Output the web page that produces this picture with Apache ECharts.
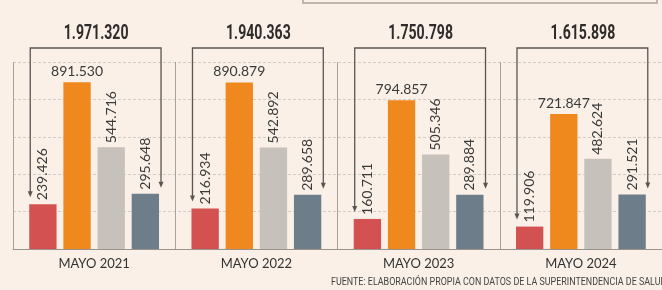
<!DOCTYPE html>
<html>
<head>
<meta charset="utf-8">
<script src="https://cdn.jsdelivr.net/npm/echarts@6/dist/echarts.min.js"></script>
<style>
  html, body { margin: 0; padding: 0; background: #faf0e8; }
  #chart { width: 662px; height: 290px; }
</style>
</head>
<body>
<div id="chart"></div>
<script>
const categories = ['MAYO 2021', 'MAYO 2022', 'MAYO 2023', 'MAYO 2024'];
const totals = [1971320, 1940363, 1750798, 1615898];
const redValues = [239426, 216934, 160711, 119906];
const orangeValues = [891530, 890879, 794857, 721847];
const grayValues = [544716, 542892, 505346, 482624];
const blueValues = [295648, 289658, 289884, 291521];
const yMax = 1000000;
const yStep = 200000;

const fmt = (v) => String(v).replace(/\B(?=(\d{3})+(?!\d))/g, '.');

const chart = echarts.init(document.getElementById('chart'));

// rotated labels above red / gray / blue bars
const sideLabel = {
  show: true,
  position: 'top',
  rotate: 90,
  align: 'left',
  verticalAlign: 'middle',
  distance: 4,
  fontFamily: 'Lato',
  fontSize: 14,
  color: '#3a3a3a',
  formatter: (p) => fmt(p.value),
};

const barSeries = (name, data, color, label) => ({
  name: name,
  type: 'bar',
  data: data,
  barGap: '25%',
  barCategoryGap: '20%',
  itemStyle: { color: color },
  label: label,
  silent: true,
});

// bracket + total above each group
const renderBracket = (params, api) => {
  const idx = api.value(0);
  const center = api.coord([idx, 0]);
  const band = api.size([1, 0])[0];
  const xl = center[0] - band * 0.4 + 1;
  const xr = center[0] + band * 0.4 + 2;
  const topY = api.coord([idx, yMax])[1] - 14;
  const tipL = api.coord([idx, api.value(2)])[1] - 7;
  const tipR = api.coord([idx, api.value(3)])[1] - 6;
  const stroke = '#5a5552';
  const head = (x, y) => ({
    type: 'polygon',
    shape: { points: [[x - 2.5, y - 6], [x + 2.5, y - 6], [x, y]] },
    style: { fill: stroke },
  });
  return {
    type: 'group',
    children: [
      {
        type: 'polyline',
        shape: { points: [[xl, tipL - 5], [xl, topY], [xr, topY], [xr, tipR - 5]] },
        style: { stroke: stroke, lineWidth: 1.3, fill: null },
      },
      head(xl, tipL),
      head(xr, tipR),
      {
        type: 'text',
        x: center[0] + 2,
        y: topY - 14,
        scaleX: 0.67,
        style: {
          text: fmt(api.value(1)),
          fontFamily: 'Roboto',
          fontWeight: 'bold',
          fontSize: 21,
          fill: '#2e2b2a',
          align: 'center',
          verticalAlign: 'middle',
        },
      },
    ],
  };
};

chart.setOption({
  backgroundColor: '#faf0e8',
  animation: false,
  grid: { left: 13, top: 62, width: 662, height: 187 },
  xAxis: {
    type: 'category',
    data: categories,
    axisTick: { show: false },
    axisLine: { lineStyle: { color: '#9a938d', width: 1.2 } },
    axisLabel: { fontFamily: 'Lato', fontSize: 13, color: '#333', margin: 8 },
    splitLine: { show: true, lineStyle: { color: '#a8a19b', width: 1 } },
  },
  yAxis: {
    type: 'value',
    min: 0,
    max: yMax,
    interval: yStep,
    axisLabel: { show: false },
    axisLine: { show: false },
    axisTick: { show: false },
    splitLine: { lineStyle: { color: '#d3ccc4', type: [3, 2], width: 1 } },
  },
  series: [
    barSeries('Rojo', redValues, '#d35150', sideLabel),
    barSeries('Naranjo', orangeValues, '#f0891d', {
      show: true,
      position: 'top',
      distance: 4,
      fontFamily: 'Lato',
      fontSize: 14,
      color: '#3a3a3a',
      formatter: (p) => fmt(p.value),
    }),
    barSeries('Gris', grayValues, '#c6c2bb', sideLabel),
    barSeries('Azul', blueValues, '#6d7d8a', sideLabel),
    {
      type: 'custom',
      renderItem: renderBracket,
      data: totals.map((t, i) => [i, t, redValues[i], blueValues[i]]),
      silent: true,
      z: 5,
    },
  ],
  graphic: [
    {
      type: 'rect',
      shape: { x: 303, y: -20, width: 354, height: 23 },
      style: { fill: 'none', stroke: '#aaa39c', lineWidth: 1.5 },
    },
    {
      type: 'text',
      x: 331,
      y: 282,
      scaleX: 0.85,
      style: {
        text: 'FUENTE: ELABORACIÓN PROPIA CON DATOS DE LA SUPERINTENDENCIA DE SALUD',
        fontFamily: 'Roboto',
        fontSize: 10.5,
        fill: '#444',
        verticalAlign: 'middle',
      },
    },
  ],
});
</script>
</body>
</html>
